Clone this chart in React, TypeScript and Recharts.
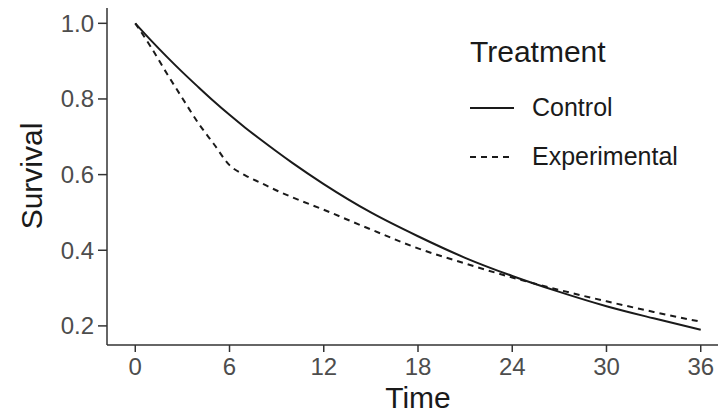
import { Legend, Line, LineChart, XAxis, YAxis } from "recharts";

// survival curves
const times = [0, 1, 2, 3, 4, 5, 6, 7, 8, 9, 10, 12, 15, 18, 21, 24, 27, 30, 33, 36];
const control = [
  1.0, 0.955, 0.912, 0.871, 0.832, 0.794, 0.758, 0.724, 0.692, 0.661, 0.631, 0.575, 0.5, 0.437,
  0.38, 0.332, 0.29, 0.252, 0.22, 0.19,
];
const experimental = [
  1.0, 0.937, 0.868, 0.802, 0.737, 0.681, 0.625, 0.598, 0.578, 0.558, 0.54, 0.507, 0.455, 0.405,
  0.365, 0.328, 0.295, 0.265, 0.237, 0.211,
];
const xTicks = [0, 6, 12, 18, 24, 30, 36];
const yTicks = [0.2, 0.4, 0.6, 0.8, 1.0];
const series = [
  { key: "control", name: "Control", dash: undefined as string | undefined },
  { key: "experimental", name: "Experimental", dash: "6 5" },
];

const rows = times.map((t, i) => ({ time: t, control: control[i], experimental: experimental[i] }));

const FONT = "'Liberation Sans', Arial, sans-serif";
const INK = "#1a1a1a";
const AXIS = "#333333";

function TreatmentLegend() {
  return (
    <div style={{ fontFamily: FONT, color: INK }}>
      <div style={{ fontSize: 30, lineHeight: "34px", marginBottom: 14 }}>Treatment</div>
      {series.map((s) => (
        <div key={s.key} style={{ display: "flex", alignItems: "center", height: 49 }}>
          <svg width={44} height={10} style={{ marginRight: 18 }}>
            <line x1={0} x2={44} y1={5} y2={5} stroke={INK} strokeWidth={2} strokeDasharray={s.dash} />
          </svg>
          <span style={{ fontSize: 25 }}>{s.name}</span>
        </div>
      ))}
    </div>
  );
}

export default function App() {
  return (
    <div
      style={{
        position: "absolute",
        left: 0,
        top: 0,
        width: 718,
        height: 414,
        overflow: "hidden",
        background: "#fff",
      }}
    >
      <LineChart width={740} height={414} data={rows} margin={{ top: 8, right: 11, left: 0, bottom: 0 }}>
        <XAxis
          type="number"
          dataKey="time"
          domain={[-1.8, 37.8]}
          ticks={xTicks}
          height={69}
          stroke={AXIS}
          strokeWidth={1.5}
          tickSize={7}
          tickMargin={6}
          tick={{ fill: "#4d4d4d", fontSize: 24, fontFamily: FONT }}
          label={{
            value: "Time",
            position: "insideBottom",
            offset: 6,
            fill: INK,
            fontSize: 30,
            fontFamily: FONT,
          }}
        />
        <YAxis
          type="number"
          domain={[0.1495, 1.0405]}
          ticks={yTicks}
          width={107}
          stroke={AXIS}
          strokeWidth={1.5}
          tickSize={9}
          tickMargin={4}
          tickFormatter={(v: number) => v.toFixed(1)}
          tick={{ fill: "#4d4d4d", fontSize: 24, fontFamily: FONT }}
          label={{
            content: () => (
              <text
                x={42}
                y={176}
                transform="rotate(-90 42 176)"
                textAnchor="middle"
                fill={INK}
                fontSize={30}
                fontFamily={FONT}
              >
                Survival
              </text>
            ),
          }}
        />
        <Legend
          layout="vertical"
          verticalAlign="middle"
          align="center"
          wrapperStyle={{ left: 470, top: 35, width: 240 }}
          content={() => <TreatmentLegend />}
        />
        {series.map((s) => (
          <Line
            key={s.key}
            type="monotone"
            dataKey={s.key}
            name={s.name}
            stroke={INK}
            strokeWidth={2}
            strokeDasharray={s.dash}
            dot={false}
            activeDot={false}
            isAnimationActive={false}
          />
        ))}
      </LineChart>
    </div>
  );
}
